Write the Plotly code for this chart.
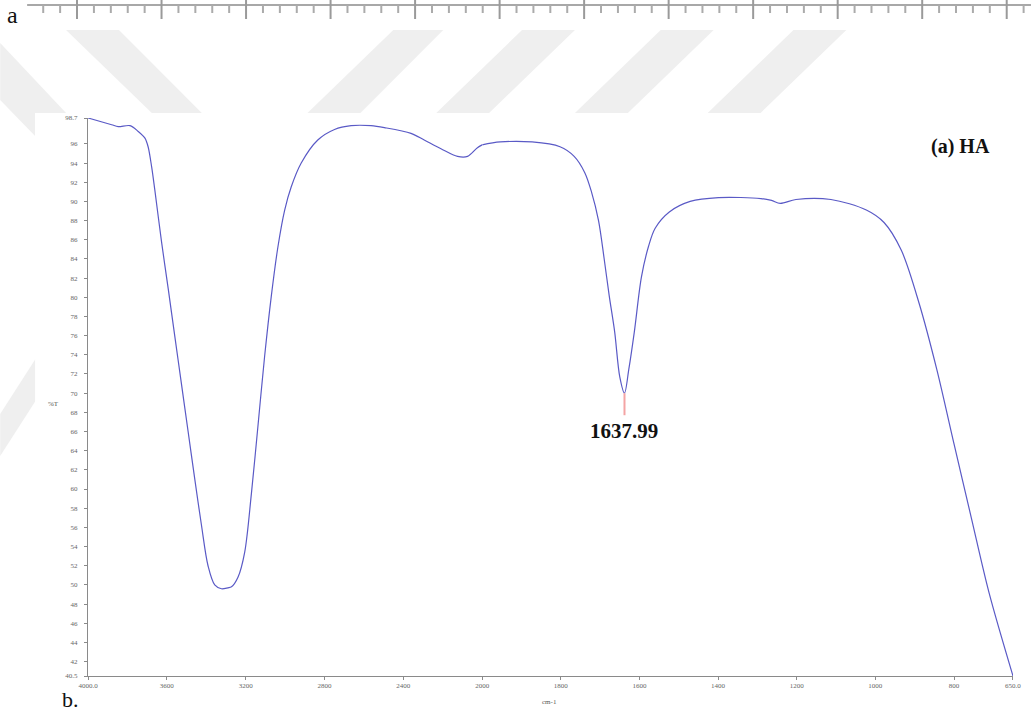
import plotly.graph_objects as go

# ---------------- data ----------------
wavenumber = [4000, 3880, 3847, 3787, 3745, 3711, 3695, 3677, 3661, 3627, 3593, 3560,
              3526, 3492, 3458, 3424, 3391, 3357, 3323, 3290, 3272, 3239, 3205, 3171,
              3138, 3104, 3070, 3036, 3002, 2969, 2918, 2834, 2749, 2665, 2564, 2496,
              2361, 2294, 2209, 2125, 2074, 2024, 2000, 1954, 1873, 1802, 1766, 1739,
              1722, 1704, 1690, 1677, 1663, 1650, 1638, 1627, 1613, 1595, 1577, 1560,
              1524, 1471, 1399, 1291, 1264, 1242, 1202, 1113, 1023, 978, 934, 889,
              844, 800, 756, 711, 650]
transmittance = [98.7, 98.0, 97.8, 97.9, 97.3, 96.6, 95.7, 93.6, 91.2, 85.8, 80.9, 76.0,
                 71.0, 66.0, 61.0, 56.2, 52.0, 50.0, 49.6, 49.7, 49.8, 50.8, 53.4, 59.5,
                 66.5, 73.8, 80.1, 85.3, 89.1, 91.5, 94.0, 96.4, 97.5, 97.9, 97.9, 97.7,
                 97.1, 96.4, 95.5, 94.7, 94.7, 95.6, 95.9, 96.2, 96.2, 95.7, 94.7, 93.0,
                 91.0, 88.0, 84.1, 80.2, 76.4, 71.7, 70.0, 72.5, 76.4, 82.1, 85.3, 87.2,
                 88.9, 90.0, 90.4, 90.3, 90.1, 89.8, 90.2, 90.2, 89.1, 87.8, 84.9, 79.4,
                 72.5, 64.7, 57.0, 49.2, 40.5]

x_ticks_left = [4000, 3600, 3200, 2800, 2400, 2000]
x_labels_left = ["4000.0", "3600", "3200", "2800", "2400", "2000"]
x_ticks_right = [1800, 1600, 1400, 1200, 1000, 800, 650]
x_labels_right = ["1800", "1600", "1400", "1200", "1000", "800", "650.0"]
y_ticks = [40.5, 42, 44, 46, 48, 50, 52, 54, 56, 58, 60, 62, 64, 66, 68, 70, 72, 74,
           76, 78, 80, 82, 84, 86, 88, 90, 92, 94, 96, 98.7]
y_labels = ["40.5", "42", "44", "46", "48", "50", "52", "54", "56", "58", "60", "62",
            "64", "66", "68", "70", "72", "74", "76", "78", "80", "82", "84", "86",
            "88", "90", "92", "94", "96", "98.7"]

split_wavenumber = 2000
peak_wavenumber = 1637.99
peak_value = 70.0
peak_label = "1637.99"
sample_label = "(a) HA"

# ---------------- layout helpers ----------------
W, H = 1033, 712
L, R, T, B = 88, 1015, 118, 676
split_frac = (483 - L) / (R - L)


def px(x):
    return (x - L) / (R - L)


def py(y):
    return (B - y) / (B - T)


SERIF = "Liberation Serif"
AXC = "#8a8a8a"
LINEC = "#5a5ac6"

left_pts = [(w, t) for w, t in zip(wavenumber, transmittance) if w >= split_wavenumber]
right_pts = [(w, t) for w, t in zip(wavenumber, transmittance) if w <= split_wavenumber]

fig = go.Figure()
fig.add_trace(go.Scatter(x=[p[0] for p in left_pts], y=[p[1] for p in left_pts],
                         mode="lines", xaxis="x", yaxis="y",
                         line=dict(color=LINEC, width=1.2, shape="spline", smoothing=0.9),
                         showlegend=False, hoverinfo="skip"))
fig.add_trace(go.Scatter(x=[p[0] for p in right_pts], y=[p[1] for p in right_pts],
                         mode="lines", xaxis="x2", yaxis="y",
                         line=dict(color=LINEC, width=1.2, shape="spline", smoothing=0.9),
                         showlegend=False, hoverinfo="skip"))

shapes = []
stripe = "#efefef"
# watermark stripes
stripe_polys = [
    [(66, 30), (119, 30), (202, 113), (152, 113)],
    [(394, 30), (444, 30), (361, 113), (308, 113)],
    [(523, 30), (576, 30), (490, 113), (437, 113)],
    [(662, 30), (715, 30), (629, 113), (576, 113)],
    [(795, 30), (848, 30), (762, 113), (709, 113)],
    [(0, 43), (66, 113), (35, 113), (35, 136), (0, 100)],
    [(36, 358), (36, 400), (0, 456), (0, 414)],
]
for poly in stripe_polys:
    path = "M " + " L ".join(f"{px(x):.5f},{py(y):.5f}" for x, y in poly) + " Z"
    shapes.append(dict(type="path", path=path, xref="paper", yref="paper",
                       fillcolor=stripe, line=dict(width=0), layer="below"))
# white chart image background
shapes.append(dict(type="rect", xref="paper", yref="paper", x0=px(35), x1=px(1033),
                   y0=py(712), y1=py(113), fillcolor="white", line=dict(width=0),
                   layer="below"))
# ruler at top of page
shapes.append(dict(type="line", xref="paper", yref="paper", x0=px(27), x1=px(1033),
                   y0=py(5), y1=py(5), line=dict(color="#a8a8a8", width=2)))
step = 84.7
for k in range(-2, 60):
    x = 77 + k * step / 5
    if x < 30 or x > 1033:
        continue
    if k % 5 == 0:
        shapes.append(dict(type="line", xref="paper", yref="paper", x0=px(x), x1=px(x),
                           y0=py(0), y1=py(19), line=dict(color="#9a9a9a", width=2)))
    else:
        shapes.append(dict(type="line", xref="paper", yref="paper", x0=px(x), x1=px(x),
                           y0=py(5), y1=py(13), line=dict(color="#ababab", width=2)))
# peak marker
shapes.append(dict(type="line", xref="x2", yref="y", x0=peak_wavenumber, x1=peak_wavenumber,
                   y0=peak_value, y1=peak_value - 2.3, line=dict(color="#f4a4a4", width=2)))

annotations = [
    dict(text=peak_label, xref="x2", yref="y", x=peak_wavenumber, y=peak_value - 3.9,
         showarrow=False, xanchor="center", yanchor="middle",
         font=dict(family=SERIF, size=21, color="#111111", weight="bold")),
    dict(text=sample_label, xref="paper", yref="paper", x=px(962), y=py(146),
         showarrow=False, xanchor="center", yanchor="middle",
         font=dict(family=SERIF, size=20, color="#111111", weight="bold")),
    dict(text="%T", xref="paper", yref="paper", x=px(53), y=py(404), showarrow=False,
         xanchor="center", yanchor="middle", font=dict(family=SERIF, size=7, color="#555")),
    dict(text="cm-1", xref="paper", yref="paper", x=px(550), y=py(702), showarrow=False,
         xanchor="center", yanchor="middle", font=dict(family=SERIF, size=7, color="#555")),
    dict(text="a", xref="paper", yref="paper", x=px(12), y=py(15), showarrow=False,
         xanchor="center", yanchor="middle", font=dict(family=SERIF, size=24, color="#111")),
    dict(text="b.", xref="paper", yref="paper", x=px(70), y=py(699), showarrow=False,
         xanchor="center", yanchor="middle", font=dict(family=SERIF, size=22, color="#111")),
]

tickfont = dict(family=SERIF, size=7, color="#666666")
xcommon = dict(showgrid=False, zeroline=False, showline=True, linecolor=AXC, linewidth=1,
               ticks="outside", ticklen=3, tickcolor=AXC, tickfont=tickfont,
               tickmode="array", fixedrange=True)

fig.update_layout(
    width=W, height=H, autosize=False,
    margin=dict(l=L, r=W - R, t=T, b=H - B, pad=0),
    paper_bgcolor="white", plot_bgcolor="rgba(0,0,0,0)",
    xaxis=dict(domain=[0, split_frac], range=[4000, 2000], tickvals=x_ticks_left,
               ticktext=x_labels_left, anchor="y", **xcommon),
    xaxis2=dict(domain=[split_frac, 1], range=[2000, 650], tickvals=x_ticks_right,
                ticktext=x_labels_right, anchor="y", **xcommon),
    yaxis=dict(range=[40.5, 98.7], tickvals=y_ticks, ticktext=y_labels, anchor="x",
               showgrid=False, zeroline=False, showline=True, linecolor=AXC, linewidth=1,
               ticks="outside", ticklen=3, tickcolor=AXC, tickfont=tickfont,
               tickmode="array", ticklabelstandoff=5, fixedrange=True),
    shapes=shapes,
    annotations=annotations,
    showlegend=False,
)

fig.write_html("out.html")
